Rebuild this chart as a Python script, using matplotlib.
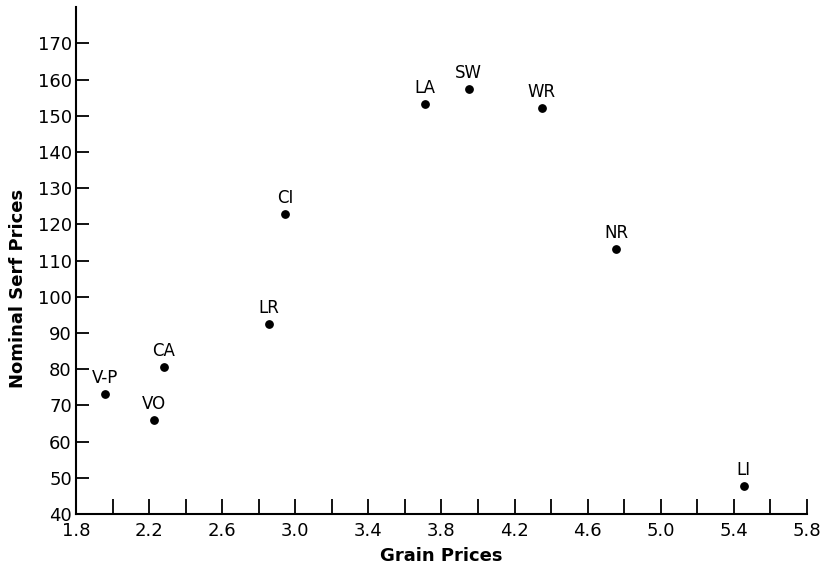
import numpy as np
import matplotlib.pyplot as plt

# datos
regiones = ['V-P', 'CA', 'VO', 'LR', 'CI', 'LA', 'SW', 'WR', 'NR', 'LI']
precio_grano = [1.96, 2.28, 2.225, 2.855, 2.945, 3.71, 3.95, 4.35, 4.755, 5.455]
precio_siervo = [73.1, 80.7, 65.9, 92.4, 122.8, 153.2, 157.5, 152.2, 113.2, 47.7]
marcas_x = ['1.8', '2.2', '2.6', '3.0', '3.4', '3.8', '4.2', '4.6', '5.0', '5.4', '5.8']
marcas_y = [40, 50, 60, 70, 80, 90, 100, 110, 120, 130, 140, 150, 160, 170]

fig = plt.figure(figsize=(8.25, 5.7), dpi=100)
ax = fig.add_axes([0.0921, 0.0982, 0.886, 0.889])

ax.scatter(precio_grano, precio_siervo, s=28, c='black', zorder=3)
for nombre, x, y in zip(regiones, precio_grano, precio_siervo):
    ax.annotate(nombre, (x, y), xytext=(0, 5), textcoords='offset points',
                ha='center', va='bottom', fontsize=12)

ax.set_xlim(1.8, 5.8)
ax.set_ylim(40, 180)
ax.spines['top'].set_visible(False)
ax.spines['right'].set_visible(False)
ax.spines['left'].set_linewidth(1.5)
ax.spines['bottom'].set_linewidth(1.5)

# marcas mayores cada 0.4 con etiqueta, menores entre medias
ax.set_xticks([float(m) for m in marcas_x], marcas_x)
ax.set_xticks([float(m) + 0.2 for m in marcas_x[:-1]], minor=True)
ax.set_yticks(marcas_y)
ax.tick_params(axis='both', which='both', direction='in', width=1.3, labelsize=13)
ax.tick_params(axis='x', which='both', length=11, pad=6)
ax.tick_params(axis='y', length=9, pad=3)

ax.set_xlabel('Grain Prices', fontsize=13, fontweight='bold')
ax.set_ylabel('Nominal Serf Prices', fontsize=13, fontweight='bold')
ax.xaxis.set_label_coords(0.5, -0.083)
ax.yaxis.set_label_coords(-0.079, 0.446)
ax.xaxis.label.set_va('center')
ax.yaxis.label.set_va('center')

plt.savefig('out.png', dpi=100)
